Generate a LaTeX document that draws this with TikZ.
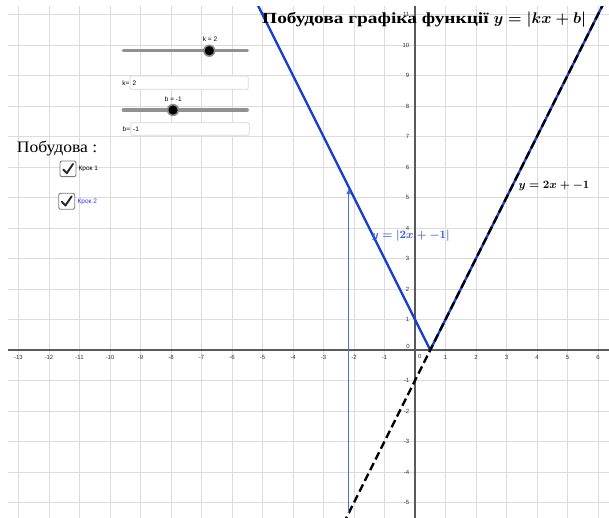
\IfFileExists{fix-cm.sty}{\RequirePackage{fix-cm}}{}
\documentclass[tikz,border=0pt]{standalone}
\usepackage[no-math]{fontspec}
\newfontfamily\cyrserif[FakeStretch=1.1]{Liberation Serif}
\newfontfamily\cyrtitle[FakeStretch=1.25]{Liberation Serif}
\newfontfamily\uisans{Liberation Sans}
\usetikzlibrary{arrows.meta}
\definecolor{gridc}{RGB}{220,220,220}
\definecolor{axisc}{RGB}{90,90,90}
\definecolor{fblue}{RGB}{22,62,205}
\definecolor{vblue}{RGB}{70,110,228}
\definecolor{lblue}{RGB}{55,90,220}
\definecolor{kblue}{RGB}{45,45,255}
\definecolor{slidec}{RGB}{145,145,145}
\definecolor{boxc}{RGB}{215,215,215}
\definecolor{chkc}{RGB}{125,125,125}
\newcommand\labfont{\fontsize{11.3}{13}\selectfont\boldmath}
\newcommand\titfont{\cyrtitle\bfseries\fontsize{15.5}{18}\selectfont}
\begin{document}
\begin{tikzpicture}[x=1pt,y=-1pt,
  gridline/.style={draw=gridc,line width=0.9pt},
  axisline/.style={draw=axisc,line width=1.1pt},
  ticklab/.style={font=\uisans\fontsize{6}{7}\selectfont,text=black!80,inner sep=0pt},
  uilab/.style={font=\uisans\fontsize{6.5}{7.5}\selectfont,inner sep=0pt},
  slideline/.style={draw=slidec,line width=3.2pt,line cap=round},
  inbox/.style={draw=boxc,fill=white,line width=0.8pt,rounded corners=1.2pt},
  chkbox/.style={draw=chkc,fill=white,line width=0.9pt,rounded corners=2pt},
  chkmark/.style={draw=black!85,line width=1.9pt,line cap=round,line join=round},
  vline/.style={draw=fblue,line width=2.4pt},
  dline/.style={draw=black,line width=2.4pt,dash pattern=on 8pt off 4pt},
  vecline/.style={draw=vblue,line width=1.2pt,-{Latex[length=7pt,width=5pt]}},
  funclab/.style={anchor=west,inner sep=0pt,font=\labfont}]
\useasboundingbox (0,0) rectangle (609,518);
\fill[white] (0,0) rectangle (609,518);
\begin{scope}
\clip (8,7) rectangle (609,518);
\begin{scope}[shift={(415,350)},x=30.5pt,y=30.5pt]
  \foreach \i in {-13,...,6} \draw[gridline] (\i,-5.6) -- (\i,11.6);
  \foreach \j in {-5,...,11} \draw[gridline] (-13.7,\j) -- (6.4,\j);
  \draw[axisline] (-13.7,0) -- (6.4,0);
  \draw[axisline] (0,-5.6) -- (0,11.6);
  \foreach \i in {-13,...,-1,1,2,...,6}
    \node[ticklab] (xl\i) at (\i,-0.245) {\i};
  \node[ticklab] (xl0) at (0.155,-0.22) {0};
  \foreach \j in {-5,...,-1,1,2,...,11}
    \node[ticklab,anchor=east] (yl\j) at (-0.18,\j) {\j};
  \node[ticklab] (yl0) at (-0.23,0.11) {0};
  \coordinate (vL) at (-5.35,11.7);
  \coordinate (vM) at (0.5,0);
  \coordinate (vR) at (6.35,11.7);
  \coordinate (dA) at (-2.35,-5.7);
  \coordinate (vs) at (-2.17,-5.34);
  \coordinate (ve) at (-2.17,5.34);
  \draw[vline,line join=miter] (vL) -- (vM) -- (vR);
  \draw[dline] (dA) -- (vR);
  \draw[vecline] (vs) -- (ve);
\end{scope}
\end{scope}
\node[anchor=base west,inner sep=0pt,font=\titfont] (title) at (262,24)
  {Побудова графіка функції {\fontsize{15.5}{18}\selectfont\boldmath$y=|kx+b|$}};
\node[funclab] (lab1) at (518.3,186) {$y=2x+-1$};
\node[funclab,text=lblue] (lab2) at (371.5,236) {$y=|2x+-1|$};
\draw[slideline] (123.3,50.7) -- (247.3,50.7);
\fill[black!45] (209.3,50.7) circle (6.2);
\fill[black] (209.3,50.7) circle (4.6);
\node[uilab] (klab) at (210,39) {k = 2};
\draw[slideline] (123.3,110) -- (247.3,110);
\fill[black!45] (173,110) circle (6.2);
\fill[black] (173,110) circle (4.6);
\node[uilab] (blab) at (173.3,98.7) {b = -1};
\draw[inbox] (130,76) rectangle (248.3,89.3);
\node[uilab,anchor=east] (kin) at (129.6,83) {k=};
\node[uilab,anchor=west] (kval) at (132.5,83) {2};
\draw[inbox] (130.7,122.7) rectangle (249.3,135.3);
\node[uilab,anchor=east] (bin) at (130.3,129) {b=};
\node[uilab,anchor=west] (bval) at (133,129) {-1};
\node[anchor=base west,inner sep=0pt,font=\cyrserif\fontsize{16}{19}\selectfont] (pob) at (16.7,153) {Побудова :};
\draw[chkbox] (60,161) rectangle (76,176.7);
\draw[chkmark] (63.2,169.5) -- (66.8,173.2) -- (73,164);
\node[uilab,anchor=west] (k1) at (78.5,169) {Крок 1};
\draw[chkbox] (58.7,193.3) rectangle (74.7,209.3);
\draw[chkmark] (61.9,201.8) -- (65.5,205.5) -- (71.7,196.3);
\node[uilab,anchor=west,text=kblue] (k2) at (77.5,201.7) {Крок 2};
\end{tikzpicture}
\end{document}
